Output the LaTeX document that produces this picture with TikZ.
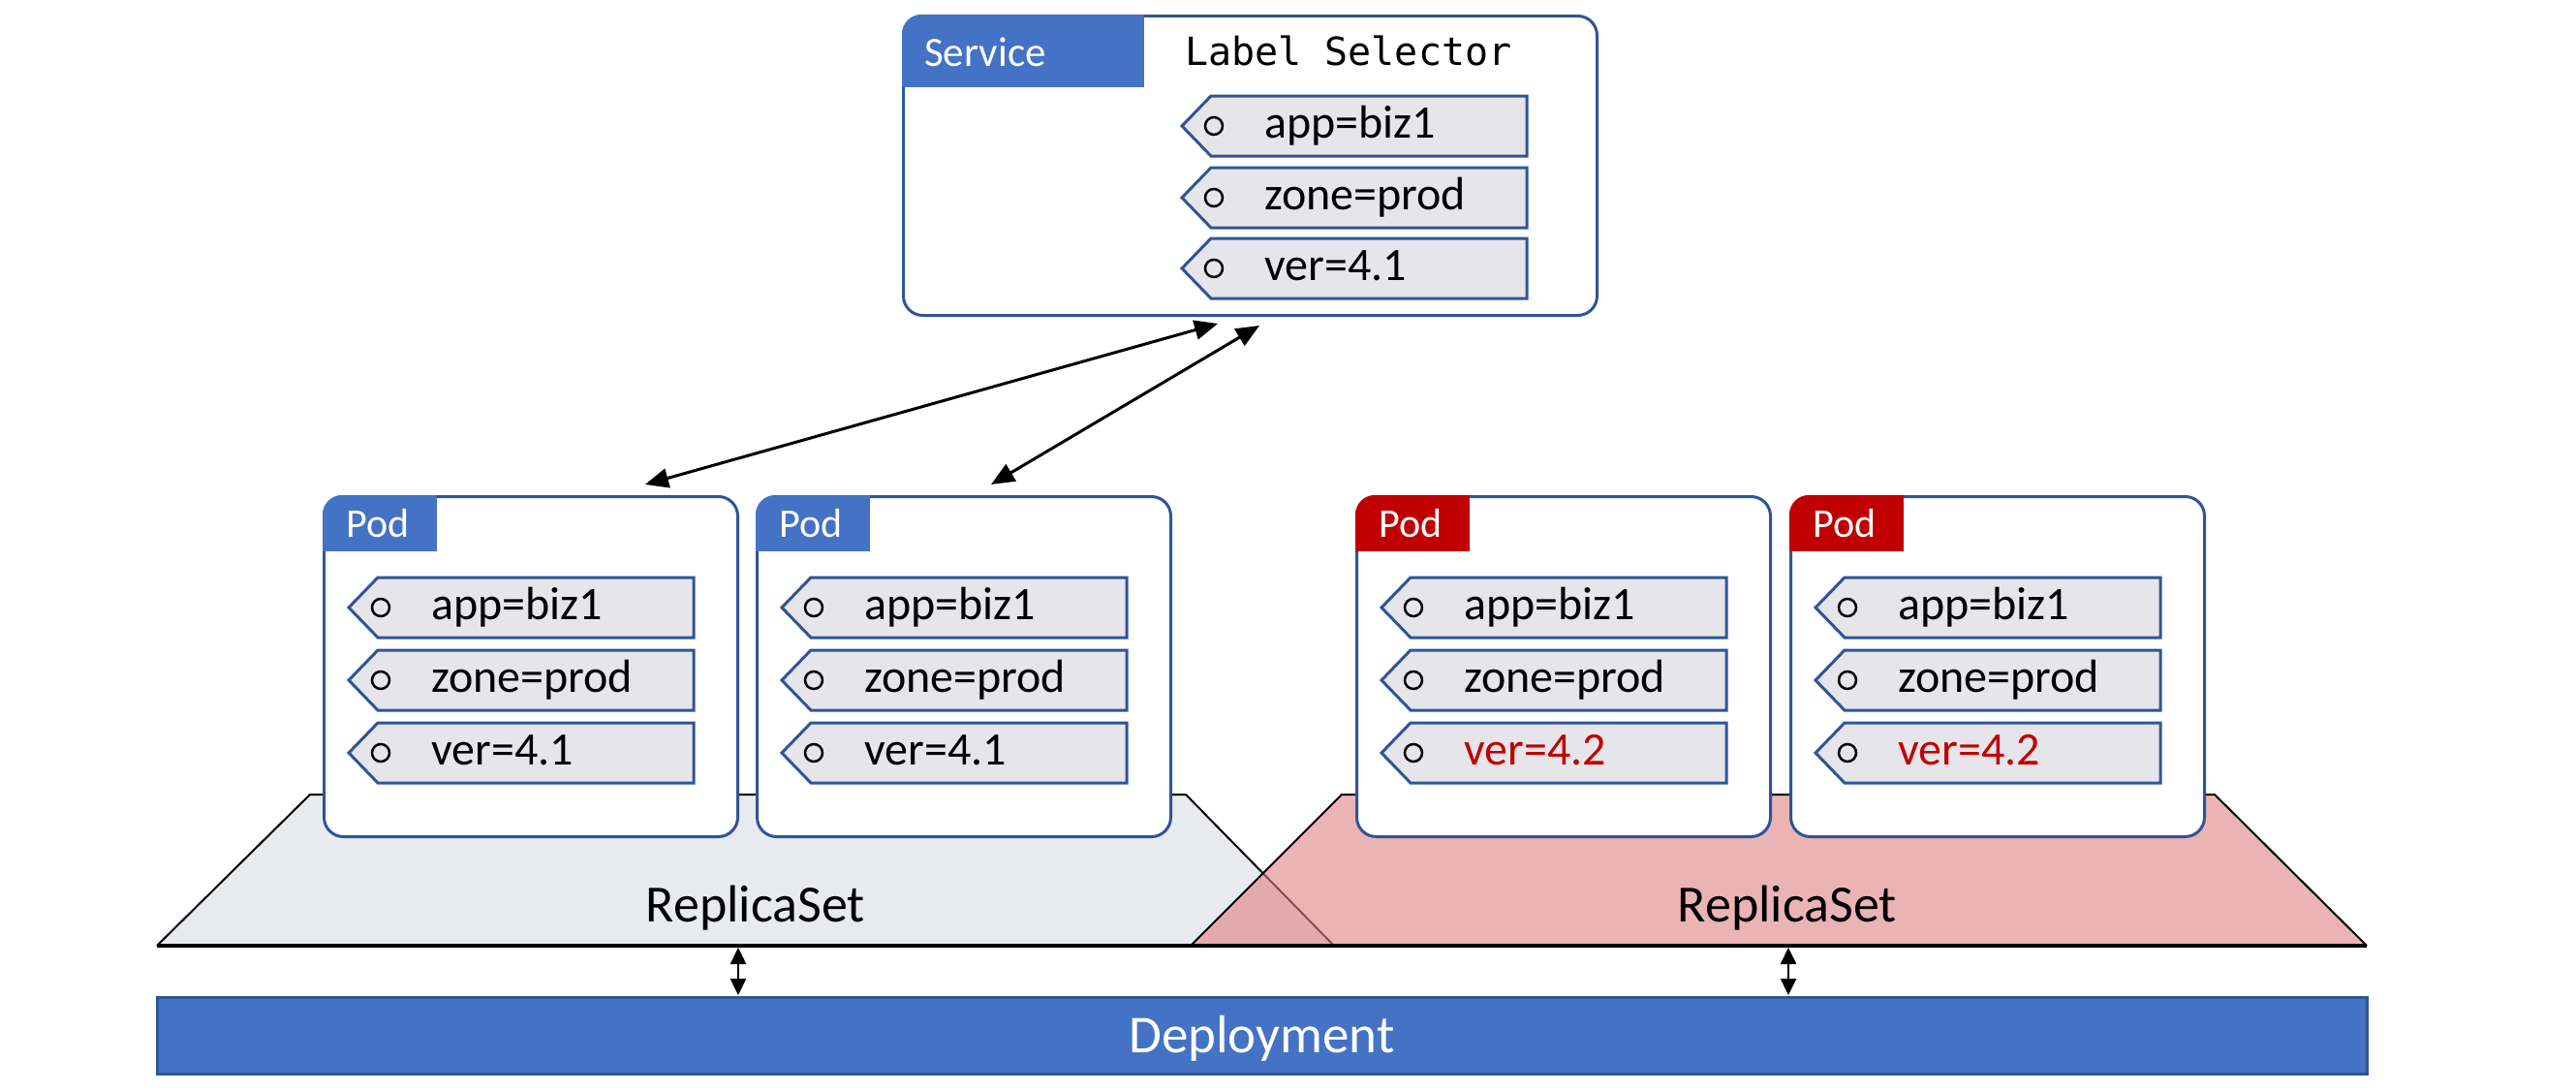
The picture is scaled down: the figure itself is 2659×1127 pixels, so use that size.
\documentclass[tikz,border=0pt]{standalone}
\usepackage{fontspec}
\setmainfont{Carlito}
\newfontfamily\monof{DejaVu Sans Mono}
\usetikzlibrary{arrows.meta}
\definecolor{kblue}{HTML}{4472C4}
\definecolor{kdark}{HTML}{2F5597}
\definecolor{kred}{HTML}{C00000}
\definecolor{tagfill}{HTML}{E6E5EA}
\definecolor{rsgray}{HTML}{E8EAEE}
\definecolor{rspink}{RGB}{223,130,130}
\tikzset{
  box/.style={draw=kdark, line width=3pt, fill=white, rounded corners=20pt, inner sep=0pt, anchor=north west},
  headtext/.style={font=\fontsize{42}{50}\selectfont, text=white, anchor=base west, inner sep=0pt},
  tagshape/.style={draw=kdark, line width=3pt, fill=tagfill, line join=miter},
  tagdot/.style={draw=black, line width=2.5pt},
  tagtext/.style={font=\fontsize{48}{58}\selectfont, anchor=base west, inner sep=0pt},
  rsline/.style={draw=black, line width=2pt},
  rstext/.style={font=\fontsize{54}{64}\selectfont, anchor=base, inner sep=0pt},
  depbox/.style={fill=kblue, draw=kdark, line width=3pt, minimum width=2281pt, minimum height=79pt,
    text=white, font=\fontsize{55}{66}\selectfont, text height=35pt, text depth=0pt, inner sep=0pt},
  sarrow/.style={line width=3pt, {Triangle[length=24pt,width=20pt]}-{Triangle[length=24pt,width=20pt]}},
  darrow/.style={line width=2.5pt, {Triangle[length=17pt,width=16pt]}-{Triangle[length=17pt,width=16pt]}}
}
% #1 name, #2 tip x, #3 top y, #4 text, #5 text colour
\newcommand\labeltag[5]{%
  \draw[tagshape] (#2,#3+31) -- (#2+30,#3) -- (#2+356,#3) -- (#2+356,#3+62) -- (#2+30,#3+62) -- cycle;
  \draw[tagdot] (#2+33,#3+31) circle[radius=9pt];
  \node[tagtext, text=#5] (#1) at (#2+85,#3+43) {#4};
}
% #1 name, #2 left x, #3 header colour, #4 version text, #5 version colour
\newcommand\podbox[5]{%
  \node[box, minimum width=427pt, minimum height=351pt] (#1) at (#2,511) {};
  \begin{scope}
    \clip[rounded corners=20pt] (#2,511) rectangle ++(427,351);
    \fill[#3] (#2,511) rectangle ++(118,58);
  \end{scope}
  \node[headtext] (#1h) at (#2+24,554) {Pod};
  \labeltag{#1a}{#2+27}{596}{app=biz1}{black}
  \labeltag{#1b}{#2+27}{671}{zone=prod}{black}
  \labeltag{#1c}{#2+27}{746}{#4}{#5}
}
\begin{document}
\begin{tikzpicture}[x=1pt,y=-1pt]
\useasboundingbox[fill=white] (0,0) rectangle (2659,1127);

% ReplicaSets
\draw[rsline, fill=rsgray] (162,976) -- (320,820) -- (1224,820) -- (1377,976);
\draw[rsline, fill=rspink, fill opacity=0.6] (1229,976) -- (1385,820) -- (2286,820) -- (2443,976);
\draw[line width=3.5pt] (162,976) -- (2443,976);
\node[rstext] (rs1) at (780,951) {ReplicaSet};
\node[rstext] (rs2) at (1845,951) {ReplicaSet};

% Pods
\podbox{p1}{333}{kblue}{ver=4.1}{black}
\podbox{p2}{780}{kblue}{ver=4.1}{black}
\podbox{p3}{1399}{kred}{ver=4.2}{kred}
\podbox{p4}{1847}{kred}{ver=4.2}{kred}

% Service
\node[box, minimum width=716pt, minimum height=309pt] (svc) at (931,15) {};
\begin{scope}
  \clip[rounded corners=20pt] (931,15) rectangle ++(716,309);
  \fill[kblue] (931,15) rectangle ++(250,75);
\end{scope}
\node[headtext, font=\fontsize{43}{52}\selectfont] (svch) at (954,68) {Service};
\node[anchor=base west, inner sep=0pt, font=\monof\fontsize{40}{48}\selectfont] (sel) at (1223,67) {Label Selector};
\labeltag{sa}{1220}{99}{app=biz1}{black}
\labeltag{sb}{1220}{173}{zone=prod}{black}
\labeltag{sc}{1220}{246}{ver=4.1}{black}

% Deployment
\node[depbox] (dep) at (1302.5,1068.5) {Deployment};

% connectors
\coordinate (q1) at (666,500);
\coordinate (s1) at (1257,334);
\coordinate (q2) at (1023,500);
\coordinate (s2) at (1300,336);
\draw[sarrow] (q1) -- (s1);
\draw[sarrow] (q2) -- (s2);
\coordinate (r1t) at (762,978);
\coordinate (r1b) at (762,1027);
\coordinate (r2t) at (1846,978);
\coordinate (r2b) at (1846,1027);
\draw[darrow] (r1t) -- (r1b);
\draw[darrow] (r2t) -- (r2b);
\end{tikzpicture}
\end{document}
